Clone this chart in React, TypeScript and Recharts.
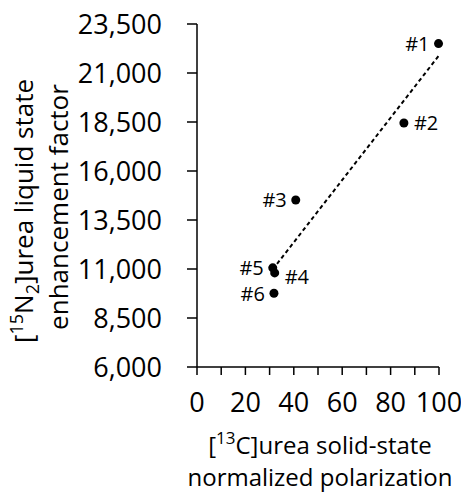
import React from "react";
import {
  ScatterChart,
  Scatter,
  XAxis,
  YAxis,
  ReferenceLine,
} from "recharts";

const sampleNames = ["#1", "#2", "#3", "#4", "#5", "#6"];
const solidPolarization = [99.8, 85.5, 40.8, 32.1, 31.3, 31.8];
const enhancementFactor = [22500, 18450, 14520, 10800, 11060, 9760];
const xTicks = [0, 10, 20, 30, 40, 50, 60, 70, 80, 90, 100];
const yTicks = [6000, 8500, 11000, 13500, 16000, 18500, 21000, 23500];

const points = sampleNames.map((name, i) => ({
  name,
  x: solidPolarization[i],
  y: enhancementFactor[i],
}));

// least squares trend line, drawn from min to max x like the spreadsheet
const n = points.length;
const mx = solidPolarization.reduce((a, b) => a + b, 0) / n;
const my = enhancementFactor.reduce((a, b) => a + b, 0) / n;
let sxy = 0;
let sxx = 0;
points.forEach((p) => {
  sxy += (p.x - mx) * (p.y - my);
  sxx += (p.x - mx) * (p.x - mx);
});
const slope = sxy / sxx;
const intercept = my - slope * mx;
const xMin = Math.min(...solidPolarization);
const xMax = Math.max(...solidPolarization);
const trend = [
  { x: xMin, y: intercept + slope * xMin },
  { x: xMax, y: intercept + slope * xMax },
];

const FONT = "'Open Sans', sans-serif";

// which side of the dot each label sits on
const labelSide: Record<string, { side: "left" | "right"; dy: number }> = {
  "#1": { side: "left", dy: 0 },
  "#2": { side: "right", dy: 0 },
  "#3": { side: "left", dy: 0 },
  "#4": { side: "right", dy: 4 },
  "#5": { side: "left", dy: 0 },
  "#6": { side: "left", dy: 0 },
};

function Dot(props: any) {
  const { cx, cy, payload } = props;
  const s = labelSide[payload.name];
  const left = s.side === "left";
  return (
    <g>
      <circle cx={cx} cy={cy} r={4.5} fill="#000" />
      <text
        x={left ? cx - 9 : cx + 10}
        y={cy + s.dy}
        dy="0.36em"
        textAnchor={left ? "end" : "start"}
        fontFamily={FONT}
        fontSize={20}
        fill="#000"
      >
        {payload.name}
      </text>
    </g>
  );
}

function YTitle() {
  return (
    <g fontFamily={FONT} fontSize={26} fill="#000">
      <text transform="translate(33,211) rotate(-90)" textAnchor="middle">
        [<tspan fontSize={18} dy={-10}>15</tspan>
        <tspan dy={10}>N</tspan>
        <tspan fontSize={18} dy={6}>2</tspan>
        <tspan dy={-6}>]urea liquid state</tspan>
      </text>
      <text transform="translate(68,207) rotate(-90)" textAnchor="middle">
        enhancement factor
      </text>
    </g>
  );
}

function XTitle() {
  return (
    <g fontFamily={FONT} fontSize={24} fill="#000">
      <text x={320} y={454} textAnchor="middle">
        [<tspan fontSize={17} dy={-10}>13</tspan>
        <tspan dy={10}>C]urea solid-state</tspan>
      </text>
      <text x={320} y={486} textAnchor="middle">
        normalized polarization
      </text>
    </g>
  );
}

export default function App() {
  return (
    <div style={{ position: "absolute", left: 0, top: 0, background: "#fff" }}>
      <ScatterChart
        width={461}
        height={495}
        margin={{ top: 24, right: 22, bottom: 0, left: 0 }}
      >
        <XAxis
          type="number"
          dataKey="x"
          domain={[0, 100]}
          ticks={xTicks}
          interval={0}
          tickFormatter={(v: number) => (v % 20 === 0 ? String(v) : "")}
          height={128}
          tickSize={8}
          tickMargin={18}
          axisLine={{ stroke: "#000", strokeWidth: 1.5 }}
          tickLine={{ stroke: "#000", strokeWidth: 1.5 }}
          tick={{ fill: "#000", fontSize: 27, fontFamily: FONT }}
          label={<XTitle />}
        />
        <YAxis
          type="number"
          dataKey="y"
          domain={[6000, 23500]}
          ticks={yTicks}
          interval={0}
          tickFormatter={(v: number) => v.toLocaleString("en-US")}
          width={197}
          tickSize={10}
          tickMargin={25}
          axisLine={{ stroke: "#000", strokeWidth: 1.5 }}
          tickLine={{ stroke: "#000", strokeWidth: 1.5 }}
          tick={{ fill: "#000", fontSize: 27, fontFamily: FONT }}
          label={<YTitle />}
        />
        <ReferenceLine
          segment={trend}
          stroke="#000"
          strokeWidth={2}
          strokeDasharray="4 3"
        />
        <Scatter data={points} shape={<Dot />} isAnimationActive={false} />
      </ScatterChart>
    </div>
  );
}
